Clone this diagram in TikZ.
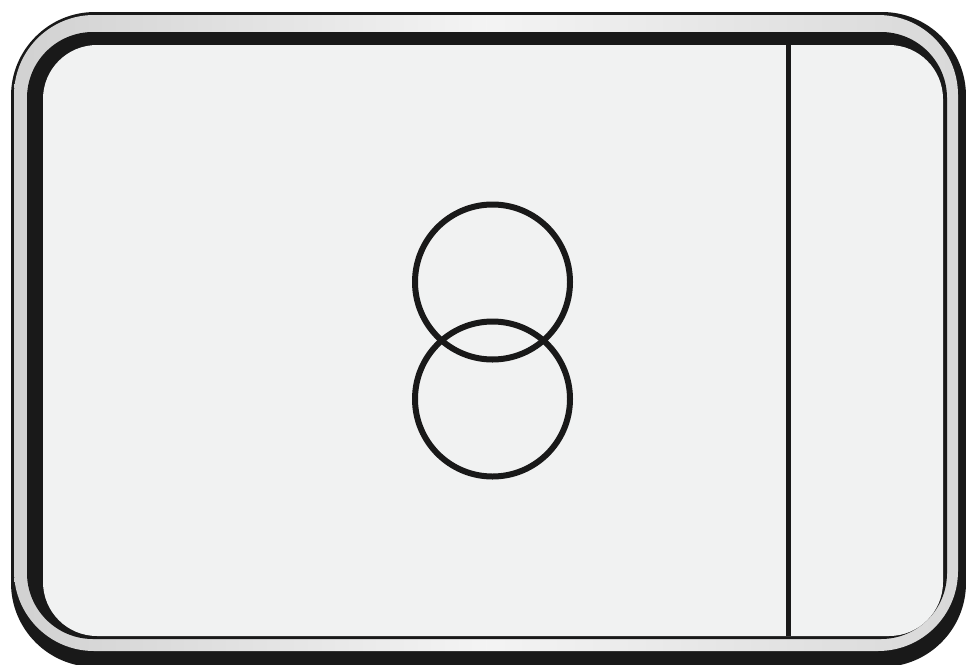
\documentclass[tikz,border=0pt]{standalone}
\usepackage{xcolor}
\usepackage{tikz}
\definecolor{panel}{HTML}{F1F2F2}

\begin{document}
\begin{tikzpicture}[
  x=1pt, y=-1pt,
  edge/.style  ={fill=black!90},
  band/.style  ={left color=gray!36,right color=gray!30,middle color=gray!9},
  face/.style  ={fill=panel},
  ring/.style  ={draw=black!90,line width=6pt},
  split/.style ={draw=black!90,line width=5pt}]

\useasboundingbox (0,0) rectangle (966,664);

% ---------- outer bezel ----------
\path[edge,rounded corners=84pt] (11,12) rectangle (966,667);
\path[band,rounded corners=80pt] (14,15) rectangle (958,651);

% ---------- inner panel ----------
\path[edge,rounded corners=66pt] (27,32) rectangle (947,639);
\path[face,rounded corners=54pt] (43,45) rectangle (943,636);

% ---------- divider and rings ----------
\coordinate (top) at (788,45);
\coordinate (bot) at (788,636);
\draw[split] (top) -- (bot);

\draw[ring] (492.5,282) circle (77.5);
\draw[ring] (492.5,399) circle (77.5);

\end{tikzpicture}
\end{document}
